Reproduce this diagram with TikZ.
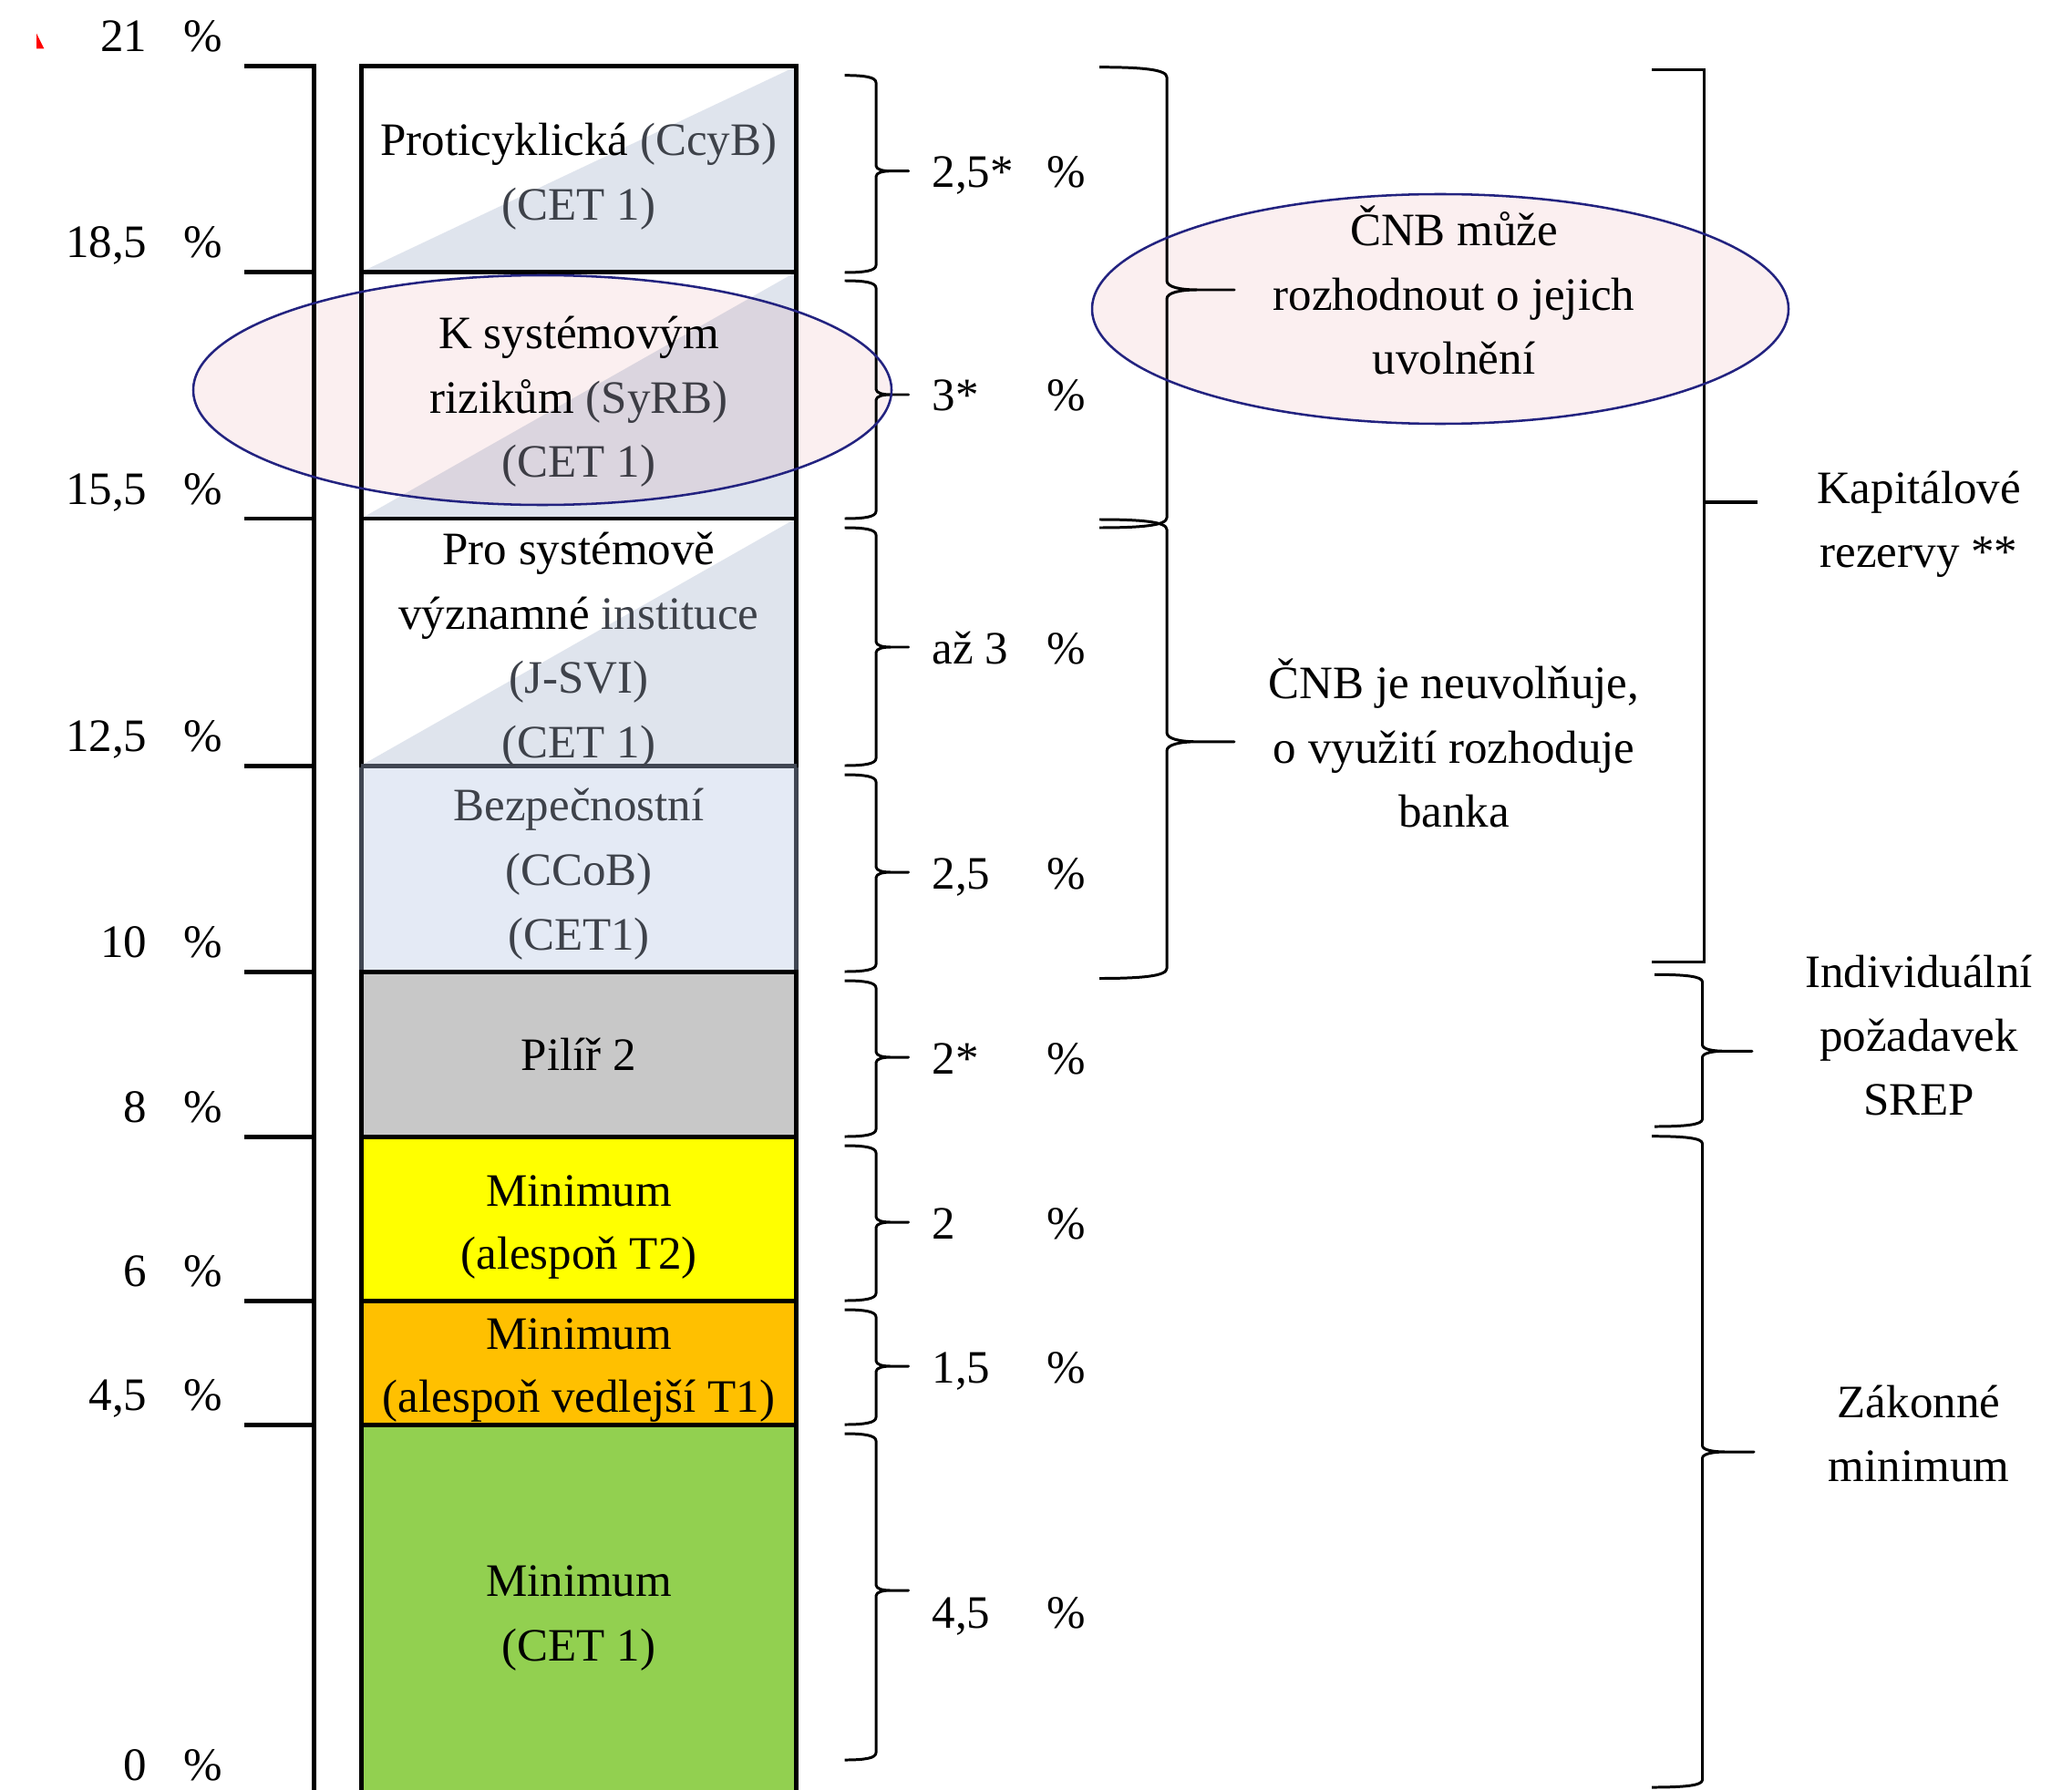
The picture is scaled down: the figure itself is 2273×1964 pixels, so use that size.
\documentclass[tikz,border=0pt]{standalone}
\usepackage{fontspec}
\setmainfont{Liberation Serif}
\definecolor{bluetri}{RGB}{223,228,237}
\definecolor{bezp}{RGB}{228,234,245}
\definecolor{pilir}{RGB}{200,200,200}
\definecolor{minyel}{RGB}{255,255,0}
\definecolor{minorg}{RGB}{255,192,0}
\definecolor{mingrn}{RGB}{146,208,80}
\definecolor{gtxt}{RGB}{62,66,74}
\definecolor{ellpink}{RGB}{251,239,240}
\definecolor{ellnavy}{RGB}{35,35,128}
\definecolor{markred}{RGB}{255,0,0}
\definecolor{sepgray}{RGB}{64,70,82}
% brace: x0, xs, xt, ya, ym, yb, d, dt
\newcommand{\capbrace}[8]{%
  \draw[braceline] (#1,#4) .. controls ({#2-0.35*(#2-#1)},#4) and (#2,{#4+0.25*#7}) .. (#2,{#4+#7})
    -- (#2,{#5-#8}) .. controls (#2,{#5-0.3*#8}) and ({#2+0.2*(#3-#2)},#5) .. ({#2+0.45*(#3-#2)},#5)
    -- (#3,#5) -- ({#2+0.45*(#3-#2)},#5)
    .. controls ({#2+0.2*(#3-#2)},#5) and (#2,{#5+0.3*#8}) .. (#2,{#5+#8})
    -- (#2,{#6-#7}) .. controls (#2,{#6-0.25*#7}) and ({#2-0.35*(#2-#1)},#6) .. (#1,#6);}
\begin{document}
\begin{tikzpicture}[x=0.01cm,y=-0.01cm,
  txt/.style={font=\fontsize{14.5}{20.2}\selectfont, inner sep=0pt, anchor=base},
  numl/.style={txt, anchor=base east},
  pctl/.style={txt, anchor=base west},
  thickline/.style={line width=1.42pt, line cap=rect},
  braceline/.style={line width=0.85pt, line join=round},
  bracketline/.style={line width=0.85pt},
  ellline/.style={draw=ellnavy, line width=0.72pt}]
\useasboundingbox (0,0) rectangle (2273,1964);
\fill[white] (0,0) rectangle (2273,1964);

% red mark
\fill[markred] (40,36.7) -- (48.3,53.3) -- (40,53.3) -- cycle;

% column fills
\fill[bluetri] (396,298.5) -- (873,298.5) -- (873,73) -- cycle;
\fill[bluetri] (396,569) -- (873,569) -- (873,298.5) -- cycle;
\fill[bluetri] (396,840) -- (873,840) -- (873,569) -- cycle;
\fill[bezp] (396,840) rectangle (873,1066);
\fill[pilir] (396,1066) rectangle (873,1247);
\fill[minyel] (396,1247) rectangle (873,1427);
\fill[minorg] (396,1427) rectangle (873,1563);
\fill[mingrn] (396,1563) rectangle (873,1970);

% column borders
\draw[thickline] (396,1970) -- (396,73) -- (873,73) -- (873,1970);
\foreach \yy in {298.5,569,1066,1247,1427,1563}
  \draw[thickline] (396,\yy) -- (873,\yy);
\draw[thickline, sepgray] (398,840) -- (871,840);
\draw[line width=1.42pt, sepgray] (396,842) -- (396,1064) (873,842) -- (873,1064);

% left scale
\draw[thickline, line cap=butt] (344.5,70.5) -- (344.5,1970);
\foreach \yy in {73,298.5,569,840,1066,1247,1427,1563}
  \draw[line width=1.42pt] (268,\yy) -- (347,\yy);

% left labels
\node[numl] (n21) at (162,57) {21};     \node[pctl] (q21) at (201,57) {\%};
\node[numl] (n185) at (162,282.5) {18,5}; \node[pctl] (q185) at (201,282.5) {\%};
\node[numl] (n155) at (162,553) {15,5}; \node[pctl] (q155) at (201,553) {\%};
\node[numl] (n125) at (162,824) {12,5}; \node[pctl] (q125) at (201,824) {\%};
\node[numl] (n10) at (162,1050) {10};   \node[pctl] (q10) at (201,1050) {\%};
\node[numl] (n8) at (162,1231) {8};     \node[pctl] (q8) at (201,1231) {\%};
\node[numl] (n6) at (162,1411) {6};     \node[pctl] (q6) at (201,1411) {\%};
\node[numl] (n45) at (162,1547) {4,5};  \node[pctl] (q45) at (201,1547) {\%};
\node[numl] (n0) at (162,1953) {0};     \node[pctl] (q0) at (201,1953) {\%};

% column texts
\node[txt] (c1a) at (635,171) {Proticyklická \textcolor{gtxt}{(CcyB)}};
\node[txt, text=gtxt] (c1b) at (635,242) {(CET 1)};
\node[txt] (c2a) at (635,383) {K systémovým};
\node[txt] (c2b) at (635,454) {rizikům \textcolor{gtxt}{(SyRB)}};
\node[txt, text=gtxt] (c2c) at (635,523) {(CET 1)};
\node[txt] (c3a) at (635,619) {Pro systémově};
\node[txt] (c3b) at (635,690) {významné \textcolor{gtxt}{instituce}};
\node[txt, text=gtxt] (c3c) at (635,760) {(J-SVI)};
\node[txt, text=gtxt] (c3d) at (635,831) {(CET 1)};
\node[txt, text=gtxt] (c4a) at (635,900) {Bezpečnostní};
\node[txt, text=gtxt] (c4b) at (635,971) {(CCoB)};
\node[txt, text=gtxt] (c4c) at (635,1042) {(CET1)};
\node[txt] (c5a) at (635,1174) {Pilíř 2};
\node[txt] (c6a) at (635,1323) {Minimum};
\node[txt] (c6b) at (635,1392) {(alespoň T2)};
\node[txt] (c7a) at (635,1480) {Minimum};
\node[txt] (c7b) at (635,1549) {(alespoň vedlejší T1)};
\node[txt] (c8a) at (635,1751) {Minimum};
\node[txt] (c8b) at (635,1822) {(CET 1)};

% small braces
\capbrace{926.7}{961}{996.7}{82.7}{187.7}{299}{8}{6}
\capbrace{926.7}{961}{996.7}{308}{433}{569}{8}{6}
\capbrace{926.7}{961}{996.7}{579}{710}{840}{8}{6}
\capbrace{926.7}{961}{996.7}{850}{957}{1066}{8}{6}
\capbrace{926.7}{961}{996.7}{1076}{1160}{1247}{8}{6}
\capbrace{926.7}{961}{996.7}{1257}{1341}{1427}{8}{6}
\capbrace{926.7}{961}{996.7}{1437}{1499}{1563}{8}{6}
\capbrace{926.7}{961}{996.7}{1573}{1745}{1931}{8}{6}

% right percentage labels
\node[pctl] (r1) at (1022,206) {2,5*};  \node[pctl] (s1) at (1148,206) {\%};
\node[pctl] (r2) at (1022,451) {3*};    \node[pctl] (s2) at (1148,451) {\%};
\node[pctl] (r3) at (1022,728) {až 3};  \node[pctl] (s3) at (1148,728) {\%};
\node[pctl] (r4) at (1022,975) {2,5};   \node[pctl] (s4) at (1148,975) {\%};
\node[pctl] (r5) at (1022,1178) {2*};   \node[pctl] (s5) at (1148,1178) {\%};
\node[pctl] (r6) at (1022,1359) {2};    \node[pctl] (s6) at (1148,1359) {\%};
\node[pctl] (r7) at (1022,1517) {1,5};  \node[pctl] (s7) at (1148,1517) {\%};
\node[pctl] (r8) at (1022,1786) {4,5};  \node[pctl] (s8) at (1148,1786) {\%};

% big braces
\capbrace{1206}{1280}{1354}{73.7}{318}{579}{11}{10}
\capbrace{1206}{1280}{1354}{570}{813.8}{1073.5}{11}{10}
\capbrace{1815}{1867.5}{1922}{1069.3}{1153.3}{1236}{8}{7}
\capbrace{1812}{1867.5}{1924}{1246.7}{1593}{1961}{8}{7}

% square bracket
\draw[bracketline] (1812,77) -- (1869,77) -- (1869,1055) -- (1812,1055);
\draw[line width=1.14pt] (1869,551) -- (1928,551);

% right texts
\node[txt] (m1) at (1595,270) {ČNB může};
\node[txt] (m2) at (1595,341) {rozhodnout o jejich};
\node[txt] (m3) at (1595,411) {uvolnění};
\node[txt] (b1) at (1595,766) {ČNB je neuvolňuje,};
\node[txt] (b2) at (1595,837) {o využití rozhoduje};
\node[txt] (b3) at (1595,907) {banka};
\node[txt] (k1) at (2105,552) {Kapitálové};
\node[txt] (k2) at (2105,622) {rezervy **};
\node[txt] (i1) at (2105,1083) {Individuální};
\node[txt] (i2) at (2105,1153) {požadavek};
\node[txt] (i3) at (2105,1223) {SREP};
\node[txt] (z1) at (2105,1555) {Zákonné};
\node[txt] (z2) at (2105,1625) {minimum};

% ellipses
\begin{scope}[blend mode=multiply]
  \fill[ellpink] (595,428) ellipse [x radius=383, y radius=126];
  \fill[ellpink] (1580,339) ellipse [x radius=382, y radius=126];
\end{scope}
\draw[ellline] (595,428) ellipse [x radius=383, y radius=126];
\draw[ellline] (1580,339) ellipse [x radius=382, y radius=126];
\end{tikzpicture}
\end{document}
